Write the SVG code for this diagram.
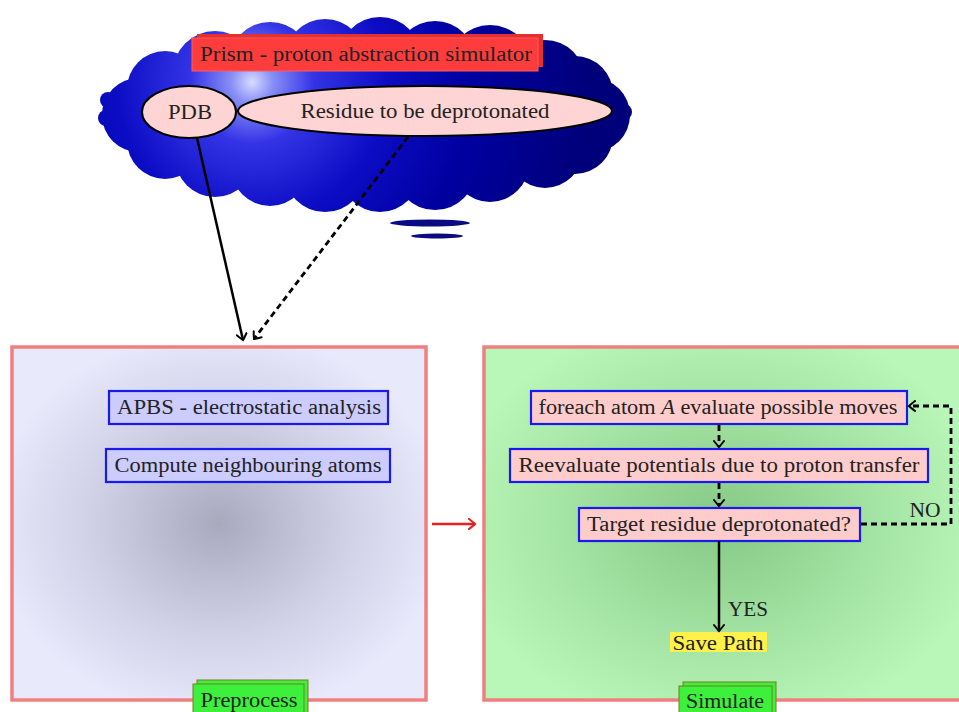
<svg xmlns="http://www.w3.org/2000/svg" width="959" height="712" viewBox="0 0 959 712">
<defs>
<radialGradient id="cloudG" gradientUnits="userSpaceOnUse" cx="252" cy="82" r="340">
<stop offset="0" stop-color="#d8dcff"/>
<stop offset="0.06" stop-color="#8a90f6"/>
<stop offset="0.18" stop-color="#3434e6"/>
<stop offset="0.4" stop-color="#0c0cc4"/>
<stop offset="0.65" stop-color="#0000a0"/>
<stop offset="1" stop-color="#00007a"/>
</radialGradient>
<radialGradient id="leftG" cx="0.5" cy="0.5" r="0.55">
<stop offset="0" stop-color="#a9a9be"/>
<stop offset="0.55" stop-color="#cfcfe6"/>
<stop offset="1" stop-color="#e9e9fc"/>
</radialGradient>
<radialGradient id="rightG" gradientUnits="userSpaceOnUse" cx="720" cy="522" r="270" gradientTransform="translate(720 522) scale(1 0.78) translate(-720 -522)">
<stop offset="0" stop-color="#86c886"/>
<stop offset="0.55" stop-color="#a2e2a2"/>
<stop offset="1" stop-color="#b9f7b9"/>
</radialGradient>
<marker id="ah" viewBox="-8 -6 10 12" refX="0" refY="0" markerWidth="10" markerHeight="12" markerUnits="userSpaceOnUse" orient="auto">
<path d="M -6 -5 Q -1.5 -1.5 0 0 Q -1.5 1.5 -6 5" fill="none" stroke="#000" stroke-width="2" stroke-linecap="round"/>
</marker>
<marker id="ahr" viewBox="-8 -6 10 12" refX="0" refY="0" markerWidth="10" markerHeight="12" markerUnits="userSpaceOnUse" orient="auto">
<path d="M -6 -5 Q -1.5 -1.5 0 0 Q -1.5 1.5 -6 5" fill="none" stroke="#e82020" stroke-width="2.2" stroke-linecap="round"/>
</marker>
</defs>
<style>
text{font-family:"Liberation Serif","DejaVu Serif",serif;fill:#222;font-size:20px;text-anchor:middle}
.panel{stroke:#f08080;stroke-width:3.5}
.bbox{stroke:#1a1aee;stroke-width:2.2}
.pink{fill:#ffcccc}
.lav{fill:#ccccff}
.ell{fill:#ffd4d4;stroke:#000;stroke-width:2}
.tag{fill:#3cf03c;stroke:#7a7a20;stroke-width:1}
.solid{fill:none;stroke:#000;stroke-width:2.5}
.dash{fill:none;stroke:#000;stroke-width:2.8;stroke-dasharray:6 4}
</style>

<g id="cloud" fill="url(#cloudG)">
<ellipse cx="366" cy="115" rx="228" ry="62"/>
<circle cx="139" cy="115" r="37"/>
<circle cx="165" cy="89" r="38"/>
<circle cx="215" cy="73" r="42"/>
<circle cx="270" cy="63" r="41"/>
<circle cx="325" cy="59" r="40"/>
<circle cx="380" cy="58" r="41"/>
<circle cx="435" cy="61" r="40"/>
<circle cx="490" cy="67" r="42"/>
<circle cx="545" cy="80" r="40"/>
<circle cx="575" cy="94" r="38"/>
<circle cx="593" cy="115" r="37"/>
<circle cx="165" cy="141" r="38"/>
<circle cx="215" cy="157" r="40"/>
<circle cx="270" cy="167" r="39"/>
<circle cx="325" cy="171" r="41"/>
<circle cx="380" cy="172" r="40"/>
<circle cx="435" cy="169" r="41"/>
<circle cx="490" cy="163" r="39"/>
<circle cx="545" cy="150" r="38"/>
<circle cx="575" cy="136" r="38"/>
<circle cx="108" cy="100" r="8"/>
<circle cx="106" cy="118" r="8"/>
<circle cx="624" cy="112" r="8"/>
</g>
<g id="cloud-trail" fill="#0a0a82">
<ellipse cx="430" cy="223" rx="40" ry="3.5"/>
<ellipse cx="437" cy="236" rx="26" ry="2.5"/>
</g>

<g id="title">
<rect x="197" y="34" width="346" height="33" fill="#e63030"/>
<rect x="192" y="38" width="346" height="33" fill="#ff3c3c" stroke="#ff5a5a" stroke-width="1"/>
<text x="366" y="61" textLength="332" lengthAdjust="spacingAndGlyphs">Prism - proton abstraction simulator</text>
</g>
<g id="pdb">
<ellipse class="ell" cx="189" cy="112" rx="47" ry="26"/>
<text x="190" y="119" textLength="44" lengthAdjust="spacingAndGlyphs">PDB</text>
</g>
<g id="residue">
<ellipse class="ell" cx="425" cy="111" rx="187" ry="25"/>
<text x="425" y="118" textLength="249" lengthAdjust="spacingAndGlyphs">Residue to be deprotonated</text>
</g>

<g id="preprocess-panel">
<rect class="panel" x="12" y="347" width="414" height="353" fill="url(#leftG)"/>
</g>
<g id="apbs">
<rect class="bbox lav" x="109" y="391" width="279" height="33"/>
<text x="249" y="414" textLength="264" lengthAdjust="spacingAndGlyphs">APBS - electrostatic analysis</text>
</g>
<g id="neighbours">
<rect class="bbox lav" x="106" y="449" width="284" height="33"/>
<text x="248" y="472" textLength="267" lengthAdjust="spacingAndGlyphs">Compute neighbouring atoms</text>
</g>
<g id="preprocess-tag">
<rect class="tag" x="197" y="680" width="111" height="40"/>
<rect class="tag" x="193" y="684" width="111" height="40"/>
<text x="249" y="707" textLength="97" lengthAdjust="spacingAndGlyphs">Preprocess</text>
</g>

<g id="simulate-panel">
<rect class="panel" x="484" y="347" width="500" height="353" fill="url(#rightG)"/>
</g>
<g id="foreach">
<rect class="bbox pink" x="531" y="391" width="376" height="33"/>
<text x="718" y="414" textLength="359" lengthAdjust="spacingAndGlyphs">foreach atom <tspan font-style="italic">A</tspan> evaluate possible moves</text>
</g>
<g id="reevaluate">
<rect class="bbox pink" x="510" y="449" width="418" height="33"/>
<text x="719" y="472" textLength="401" lengthAdjust="spacingAndGlyphs">Reevaluate potentials due to proton transfer</text>
</g>
<g id="target">
<rect class="bbox pink" x="579" y="508" width="281" height="33"/>
<text x="719" y="531" textLength="264" lengthAdjust="spacingAndGlyphs">Target residue deprotonated?</text>
</g>
<g id="savepath">
<rect x="670" y="632" width="97" height="20" fill="#fff04a"/>
<text x="718" y="650" textLength="91" lengthAdjust="spacingAndGlyphs">Save Path</text>
</g>
<g id="simulate-tag">
<rect class="tag" x="683" y="682" width="93" height="40"/>
<rect class="tag" x="679" y="686" width="93" height="40"/>
<text x="725" y="708" textLength="78" lengthAdjust="spacingAndGlyphs">Simulate</text>
</g>

<g id="connectors">
<line class="solid" x1="197" y1="138" x2="243" y2="340" marker-end="url(#ah)"/>
<line class="dash" x1="408" y1="137" x2="254" y2="339" marker-end="url(#ah)"/>
<line x1="432" y1="524" x2="475" y2="524" stroke="#e82020" stroke-width="2.5" marker-end="url(#ahr)"/>
<line class="dash" x1="719" y1="425" x2="719" y2="447" marker-end="url(#ah)"/>
<line class="dash" x1="719" y1="483" x2="719" y2="506" marker-end="url(#ah)"/>
<line class="solid" x1="719" y1="541" x2="719" y2="631" marker-end="url(#ah)"/>
<path class="dash" d="M 861 524 L 951 524 L 951 406 L 909 406" marker-end="url(#ah)"/>
<text x="748" y="616" textLength="40" lengthAdjust="spacingAndGlyphs">YES</text>
<text x="925" y="517" textLength="31" lengthAdjust="spacingAndGlyphs">NO</text>
</g>
</svg>
